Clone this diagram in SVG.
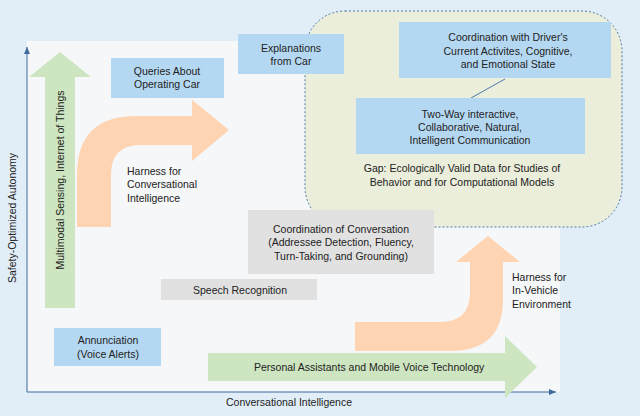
<svg xmlns="http://www.w3.org/2000/svg" width="640" height="416" viewBox="0 0 640 416">
<defs>
<style>
text{font-family:"Liberation Sans",Arial,sans-serif;font-size:10.5px;fill:#222;}
.b{fill:#b5d8f2;}
.g{fill:#e1e1e1;}
.c{text-anchor:middle;}
</style>
<marker id="ah" markerWidth="8" markerHeight="8" refX="7" refY="4" orient="auto" markerUnits="userSpaceOnUse"><path d="M0,1 L7,4 L0,7 Z" fill="#3d6a9a"/></marker>
</defs>
<rect width="640" height="416" fill="#e1eef8"/>
<rect x="27" y="41" width="533" height="351" fill="#f5f7f8"/>
<g id="gap">
<rect x="305" y="11" width="317" height="216" rx="40" fill="#eaeedb" stroke="#4a7aa8" stroke-dasharray="2,2"/>
<text class="c" x="462" y="172">Gap: Ecologically Valid Data for Studies of</text>
<text class="c" x="462" y="186">Behavior and for Computational Models</text>
</g>
<g id="connectors">
<line x1="27" y1="392" x2="27" y2="47" stroke="#3d6a9a" marker-end="url(#ah)"/>
<line x1="27" y1="392" x2="556" y2="392" stroke="#3d6a9a" marker-end="url(#ah)"/>
<line x1="505" y1="79" x2="471" y2="98" stroke="#4a7aa8"/>
</g>
<g id="sensing">
<path d="M45,308 V77 H29 L60,52 L91,77 H75 V308 Z" fill="#cde5c0"/>
<text class="c" transform="translate(64,180) rotate(-90)">Multimodal Sensing, Internet of Things</text>
</g>
<g id="harness1">
<path d="M77,227 V175 Q77,116 136,116 H192 V100 L229,130 L192,161 V145 H140 Q111,145 111,175 V227 Z" fill="#ffd4b3"/>
<text x="127" y="175">Harness for</text>
<text x="127" y="188">Conversational</text>
<text x="127" y="202">Intelligence</text>
</g>
<g id="personal">
<path d="M208,353 H505 V336 L537,367 L505,398 V381 H208 Z" fill="#cde5c0"/>
<text x="254" y="371">Personal Assistants and Mobile Voice Technology</text>
</g>
<g id="harness2">
<path d="M355,322 H440 Q470,322 470,292 V262 H456 L488,236 L520,262 H503 V300 Q503,351 450,351 H355 Z" fill="#ffd4b3"/>
<text x="512" y="281">Harness for</text>
<text x="512" y="294">In-Vehicle</text>
<text x="512" y="308">Environment</text>
</g>
<g id="queries"><rect class="b" x="111" y="58" width="113" height="40"/><text class="c" x="167" y="75">Queries About</text><text class="c" x="167" y="88">Operating Car</text></g>
<g id="explanations"><rect class="b" x="238" y="34" width="106" height="40"/><text class="c" x="291" y="52">Explanations</text><text class="c" x="291" y="65">from Car</text></g>
<g id="driver"><rect class="b" x="399" y="22" width="212" height="56"/><text class="c" x="508" y="41">Coordination with Driver's</text><text class="c" x="508" y="55">Current Activites, Cognitive,</text><text class="c" x="508" y="68">and Emotional State</text></g>
<g id="twoway"><rect class="b" x="356" y="98" width="229" height="56"/><text class="c" x="470" y="118">Two-Way interactive,</text><text class="c" x="470" y="131">Collaborative, Natural,</text><text class="c" x="470" y="144">Intelligent Communication</text></g>
<g id="coord"><rect class="g" x="248" y="210" width="186" height="64"/><text class="c" x="341" y="233">Coordination of Conversation</text><text class="c" x="341" y="246">(Addressee Detection, Fluency,</text><text class="c" x="341" y="260">Turn-Taking, and Grounding)</text></g>
<g id="speech"><rect class="g" x="161" y="279" width="156" height="21"/><text class="c" x="240" y="294">Speech Recognition</text></g>
<g id="annunciation"><rect class="b" x="54" y="328" width="107" height="38"/><text class="c" x="108" y="344">Annunciation</text><text class="c" x="108" y="358">(Voice Alerts)</text></g>
<text class="c" transform="translate(16,218) rotate(-90)">Safety-Optimized Autonomy</text>
<text class="c" x="289" y="406">Conversational Intelligence</text>
</svg>
